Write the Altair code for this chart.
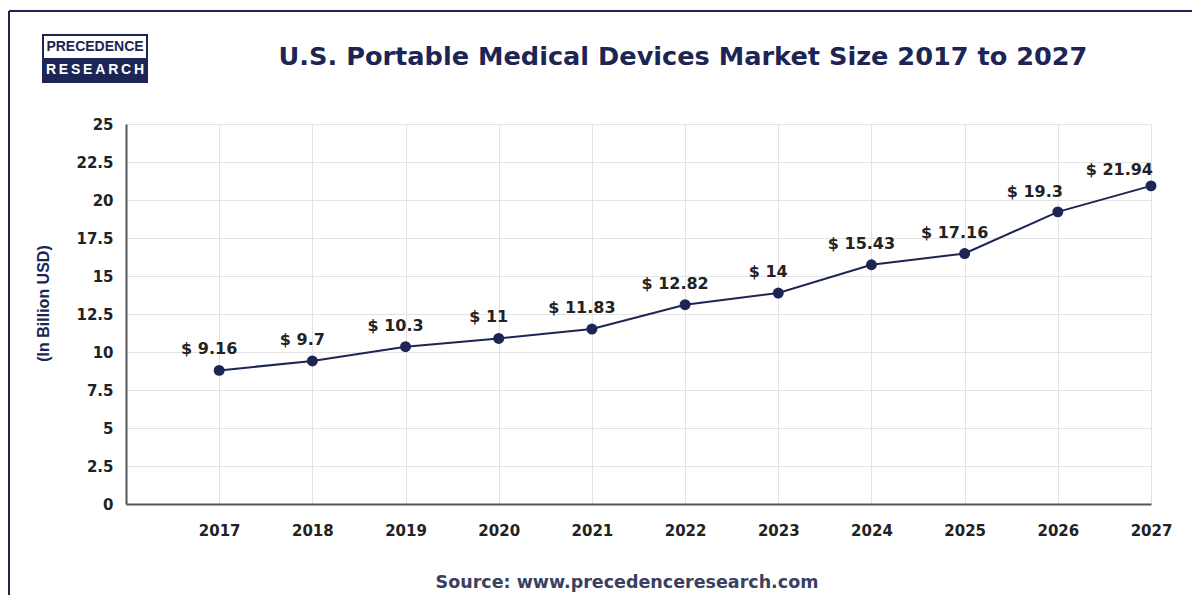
import altair as alt
import pandas as pd

# ---- data ----
years = [2017, 2018, 2019, 2020, 2021, 2022, 2023, 2024, 2025, 2026, 2027]
market_size = [8.79, 9.41, 10.35, 10.89, 11.51, 13.11, 13.88, 15.74, 16.48, 19.22, 20.93]
value_labels = ["$ 9.16", "$ 9.7", "$ 10.3", "$ 11", "$ 11.83", "$ 12.82",
                "$ 14", "$ 15.43", "$ 17.16", "$ 19.3", "$ 21.94"]
y_ticks = [0, 2.5, 5, 7.5, 10, 12.5, 15, 17.5, 20, 22.5, 25]

title_text = "U.S. Portable Medical Devices Market Size 2017 to 2027"
y_title = "(In Billion USD)"
source_text = "Source: www.precedenceresearch.com"
logo_top = "PRECEDENCE"
logo_bottom = "R\u2009E\u2009S\u2009E\u2009A\u2009R\u2009C\u2009H"

NAVY = "#1c2554"
TEXT = "#222222"
FONT = "DejaVu Sans"
LOGO_FONT = "Liberation Sans"

df = pd.DataFrame({"year": years, "size": market_size, "label": value_labels})
one = pd.DataFrame({"k": [0]})

base = alt.Chart(df)

x_enc = alt.X("year:Q",
              scale=alt.Scale(domain=[2016, 2027], nice=False, zero=False),
              axis=alt.Axis(values=years, format="d", title=None, grid=True,
                            ticks=False, labelPadding=19, labelFlush=False,
                            labelOverlap=False))
y_enc = alt.Y("size:Q",
              scale=alt.Scale(domain=[0, 25], nice=False),
              axis=alt.Axis(values=y_ticks, labelExpr="'' + datum.value",
                            title=y_title, grid=True,
                            ticks=False, labelPadding=13, labelFlush=False,
                            labelOverlap=False,
                            titleX=-83, titleY=179, titleBaseline="middle",
                            titleFont="Liberation Sans",
                            titleFontSize=16, titleFontWeight="bold", titleColor=NAVY))

line = base.mark_line(color=NAVY, strokeWidth=2).encode(x=x_enc, y=y_enc)
points = base.mark_circle(color=NAVY, size=120, opacity=1).encode(x=x_enc, y=y_enc)

lab_kw = dict(font=FONT, fontSize=16, fontWeight="bold", color=TEXT, baseline="middle")
labels_a = base.transform_filter("datum.year <= 2025").mark_text(dx=-10, dy=-21, **lab_kw).encode(
    x=x_enc, y=y_enc, text="label:N")
labels_b = base.transform_filter("datum.year == 2026").mark_text(dx=-23, dy=-20, **lab_kw).encode(
    x=x_enc, y=y_enc, text="label:N")
labels_c = base.transform_filter("datum.year == 2027").mark_text(dx=2, dy=-16, align="right", **lab_kw).encode(
    x=x_enc, y=y_enc, text="label:N")

deco = alt.Chart(one)
frame_top = deco.mark_rule(color=NAVY, strokeWidth=2).encode(
    x=alt.value(-117), x2=alt.value(1066), y=alt.value(-113))
frame_left = deco.mark_rule(color=NAVY, strokeWidth=2).encode(
    x=alt.value(-117), y=alt.value(-113), y2=alt.value(480))

logo_box = deco.mark_rect(fill="white", stroke=NAVY, strokeWidth=2).encode(
    x=alt.value(-83), x2=alt.value(21), y=alt.value(-89), y2=alt.value(-42))
logo_fill = deco.mark_rect(fill=NAVY).encode(
    x=alt.value(-83), x2=alt.value(21), y=alt.value(-66), y2=alt.value(-42))
logo_t1 = deco.mark_text(font=LOGO_FONT, fontSize=14, fontWeight="bold",
                         color=NAVY, baseline="middle").encode(
    x=alt.value(-31), y=alt.value(-77), text=alt.value(logo_top))
logo_t2 = deco.mark_text(font=LOGO_FONT, fontSize=14, fontWeight="bold",
                         color="white", baseline="middle").encode(
    x=alt.value(-31), y=alt.value(-54), text=alt.value(logo_bottom))

title = deco.mark_text(font=FONT, fontSize=25.6, fontWeight="bold", color=NAVY,
                       baseline="middle").encode(
    x=alt.value(557), y=alt.value(-67), text=alt.value(title_text))
source = deco.mark_text(font=FONT, fontSize=17.5, fontWeight="bold", color="#3b4060",
                        baseline="middle").encode(
    x=alt.value(501), y=alt.value(459), text=alt.value(source_text))

chart = alt.layer(
    line, points, labels_a, labels_b, labels_c,
    frame_top, frame_left, logo_box, logo_fill, logo_t1, logo_t2, title, source
).properties(
    width=1025, height=380,
    autosize=alt.AutoSizeParams(type="none"),
    padding={"left": 118, "top": 116, "right": 41, "bottom": 91},
    background="white",
).configure_view(stroke=None).configure_axis(
    domainColor="#555555", domainWidth=2, gridColor="#e3e3e3", gridWidth=1,
    labelFont=FONT, labelFontWeight="bold", labelFontSize=15, labelColor=TEXT,
)

chart.save("out.html", embed_options={"renderer": "svg", "actions": False})
